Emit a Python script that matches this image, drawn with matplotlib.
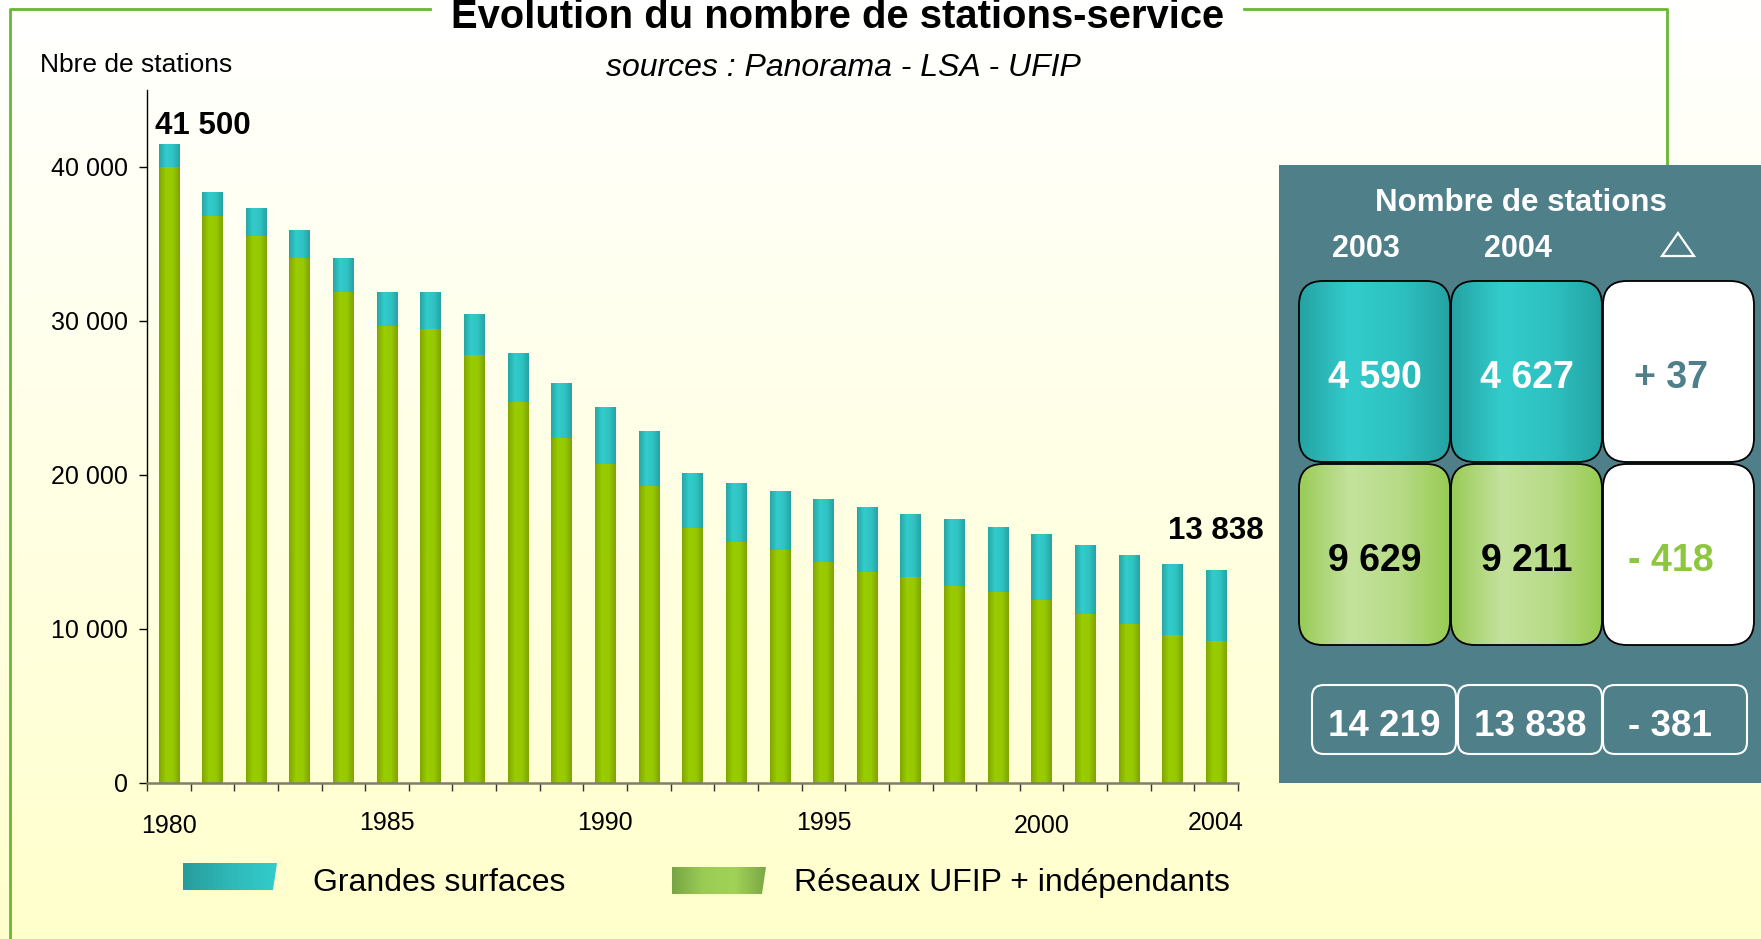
import matplotlib
matplotlib.use("Agg")
import matplotlib.pyplot as plt
import numpy as np
from matplotlib.colors import LinearSegmentedColormap
from matplotlib.patches import FancyBboxPatch, Rectangle, Polygon

plt.rcParams["font.family"] = ["Liberation Sans", "DejaVu Sans"]

# data
years = list(range(1980, 2005))
grandes_surfaces = [1500, 1600, 1850, 1800, 2200, 2250, 2400, 2650, 3150, 3550,
                    3700, 3550, 3550, 3800, 3800, 4100, 4200, 4150, 4350, 4200,
                    4300, 4450, 4500, 4590, 4627]
reseaux = [40000, 36800, 35500, 34100, 31900, 29650, 29500, 27800, 24750, 22400,
           20700, 19300, 16550, 15650, 15150, 14350, 13700, 13350, 12800, 12400,
           11900, 11000, 10300, 9629, 9211]
label_years = [1980, 1985, 1990, 1995, 2000, 2004]
y_ticks = [0, 10000, 20000, 30000, 40000]
series_names = ["Grandes surfaces", "Réseaux UFIP + indépendants"]

W, H = 1761, 939
CYAN = ["#27A4A4", "#33CCCC", "#30C3C3", "#26A2A2"]
GREEN = ["#7FA600", "#99CC00", "#97C900", "#7DA300"]
PANEL = "#4F7F89"


def fmt(v):
    return f"{v:,}".replace(",", " ")


def fmt_delta(v):
    sign = "+" if v >= 0 else "-"
    return f"{sign} {fmt(abs(v))}"


def gradient(ax, patch, colors, extent, zorder):
    cmap = LinearSegmentedColormap.from_list("g", colors)
    im = ax.imshow(np.linspace(0, 1, 256)[None, :], cmap=cmap, extent=extent,
                   aspect="auto", zorder=zorder, interpolation="bilinear")
    im.set_clip_path(patch)
    return im


fig = plt.figure(figsize=(W / 100, H / 100), dpi=100)

# background gradient
bg = fig.add_axes([0, 0, 1, 1], zorder=-2)
bg.imshow(np.linspace(0, 1, 256)[:, None],
          cmap=LinearSegmentedColormap.from_list("bg", ["#FFFFFF", "#FFFFCC"]),
          extent=(0, 1, 0, 1), aspect="auto", origin="upper")
bg.set_axis_off()

# main bar chart
ax = fig.add_axes([147 / W, 1 - 783 / H, (1238 - 147) / W, (783 - 90) / H], zorder=1)
ax.patch.set_alpha(0)
x = np.arange(len(years))
totals = [g + r for g, r in zip(grandes_surfaces, reseaux)]

bars_r = ax.bar(x, reseaux, width=0.47, color=GREEN[1], zorder=2)
bars_g = ax.bar(x, grandes_surfaces, bottom=reseaux, width=0.47, color=CYAN[1], zorder=2)
for b in bars_r:
    gradient(ax, b, GREEN, (b.get_x(), b.get_x() + b.get_width(),
                            b.get_y(), b.get_y() + b.get_height()), 2.5)
for b in bars_g:
    gradient(ax, b, CYAN, (b.get_x(), b.get_x() + b.get_width(),
                           b.get_y(), b.get_y() + b.get_height()), 2.5)

ax.set_xlim(-0.5, len(years) - 0.5)
ax.set_ylim(0, 45000)
ax.set_yticks(y_ticks)
ax.set_yticklabels([fmt(v) for v in y_ticks])
ax.set_xticks(np.arange(-0.5, len(years), 1))
ax.set_xticklabels([])
ax.set_xticks([years.index(y) for y in label_years], minor=True)
ax.set_xticklabels([str(y) for y in label_years], minor=True)
ax.tick_params(axis="y", length=6, width=1, pad=8, labelsize=18)
ax.tick_params(axis="x", which="major", length=6, width=1, color="#333333")
ax.tick_params(axis="x", which="minor", length=0, pad=20, labelsize=18)
# a couple of year labels sit slightly lower in the original
for t, yr in zip(ax.get_xticklabels(minor=True), label_years):
    if yr in (1980, 2000):
        t.set_y(-0.005)
for s in ["top", "right"]:
    ax.spines[s].set_visible(False)
ax.spines["left"].set_linewidth(1)
ax.spines["bottom"].set_color("#7F7F6A")
ax.spines["bottom"].set_linewidth(1.8)

ax.annotate(fmt(totals[0]), xy=(0, totals[0]), xytext=(-10, 7),
            textcoords="offset points", ha="left", va="baseline",
            fontsize=22.5, weight="bold")
ax.annotate(fmt(totals[-1]), xy=(len(years) - 1, totals[-1]), xytext=(0, 22),
            textcoords="offset points", ha="center", va="baseline",
            fontsize=22.5, weight="bold")

# overlay in pixel coordinates
ov = fig.add_axes([0, 0, 1, 1], zorder=3)
ov.set_xlim(0, W)
ov.set_ylim(H, 0)
ov.set_axis_off()
ov.patch.set_alpha(0)

border = "#66B933"
ov.plot([430, 10, 10], [9, 9, H + 5], color=border, lw=2)
ov.plot([1244, 1667, 1667], [9, 9, 170], color=border, lw=2)

ov.text(838, 28, "Evolution du nombre de stations-service", ha="center",
        va="baseline", fontsize=28.8, weight="bold")
ov.text(843, 76, "sources : Panorama - LSA - UFIP", ha="center", va="baseline",
        fontsize=23, style="italic")
ov.text(40, 72, "Nbre de stations", ha="left", va="baseline", fontsize=19)

# legend
sw1 = Polygon([[183, 863], [277, 863], [273, 890], [183, 890]], closed=True,
              facecolor="none", edgecolor="none")
ov.add_patch(sw1)
gradient(ov, sw1, ["#279C9C", "#2FB8B8", "#33CCCC"], (183, 277, 890, 863), 4)
sw2 = Polygon([[672, 867], [766, 867], [762, 894], [672, 894]], closed=True,
              facecolor="none", edgecolor="none")
ov.add_patch(sw2)
gradient(ov, sw2, ["#78A544", "#9ACC55", "#A2D257", "#7AA845"], (672, 766, 894, 867), 4)
ov.text(313, 891, series_names[0], ha="left", va="baseline", fontsize=23)
ov.text(794, 891, series_names[1], ha="left", va="baseline", fontsize=23)

# side panel
ov.add_patch(Rectangle((1279, 165), W - 1279, 783 - 165, facecolor=PANEL,
                       edgecolor="none", zorder=3))
ov.text(1521, 211, "Nombre de stations", ha="center", va="baseline",
        fontsize=22.5, weight="bold", color="white", zorder=5)
for cx, lab in zip([1366, 1518], [str(years[-2]), str(years[-1])]):
    ov.text(cx, 257, lab, ha="center", va="baseline",
            fontsize=22, weight="bold", color="white", zorder=5)
ov.add_patch(Polygon([[1662, 256], [1694, 256], [1678, 233]], closed=True,
                     facecolor="none", edgecolor="white", lw=1.6, zorder=5))

col_left = [1299, 1451, 1603]
bw = 151
rows = [(281, grandes_surfaces[-2:], ["#25A2A2", "#33CCCC", "#2EC1C1", "#25A3A3"], "white"),
        (464, reseaux[-2:], ["#98CB55", "#C4E29C", "#B7DB88", "#98CB52"], "black")]
for (y0, vals, cols, tcol) in rows:
    for i, v in enumerate(vals):
        p = FancyBboxPatch((col_left[i], y0), bw, 181,
                           boxstyle="round,pad=0,rounding_size=24",
                           facecolor="none", edgecolor="black", lw=1.3, zorder=6)
        ov.add_patch(p)
        gradient(ov, p, cols, (col_left[i], col_left[i] + bw, y0 + 181, y0), 5)
        ov.text(col_left[i] + bw / 2, y0 + 97, fmt(v), ha="center", va="center",
                fontsize=27, weight="bold", color=tcol, zorder=7)
    d = vals[1] - vals[0]
    ov.add_patch(FancyBboxPatch((col_left[2], y0), bw, 181,
                                boxstyle="round,pad=0,rounding_size=24",
                                facecolor="white", edgecolor="black", lw=1.3, zorder=6))
    ov.text(col_left[2] + bw / 2 - 8, y0 + 97, fmt_delta(d), ha="center", va="center",
            fontsize=27, weight="bold", color=PANEL if d >= 0 else "#8DC63F", zorder=7)

tot_pair = totals[-2:]
tot_vals = [fmt(tot_pair[0]), fmt(tot_pair[1]), fmt_delta(tot_pair[1] - tot_pair[0])]
for xl, dx, txt in zip([1312, 1458, 1603], [0, 0, -5], tot_vals):
    ov.add_patch(FancyBboxPatch((xl, 685), 144, 69,
                                boxstyle="round,pad=0,rounding_size=12",
                                facecolor="none", edgecolor="white", lw=1.5, zorder=6))
    ov.text(xl + 72 + dx, 726, txt, ha="center", va="center", fontsize=26.5,
            weight="bold", color="white", zorder=7)

fig.savefig("out.png", dpi=100)
